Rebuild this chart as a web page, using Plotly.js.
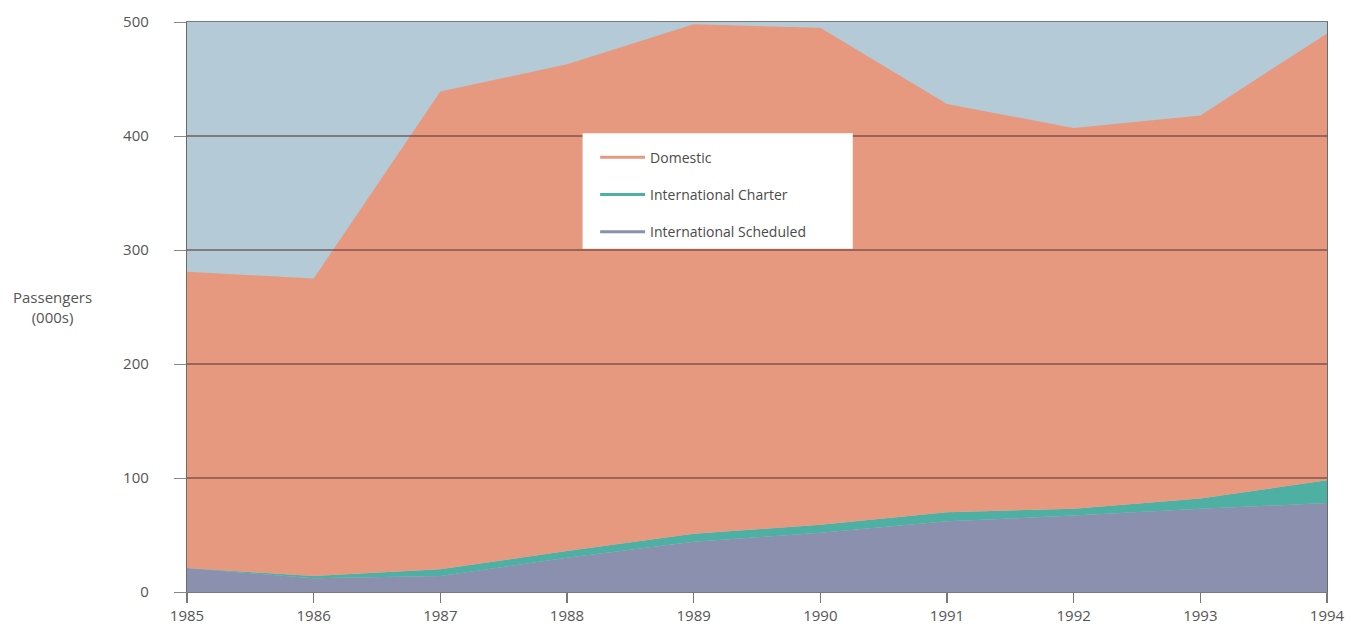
<!DOCTYPE html>
<html>
<head>
<meta charset="utf-8">
<script src="https://cdn.plot.ly/plotly-3.0.1.min.js"></script>
<style>
  html, body { margin: 0; padding: 0; background: #ffffff; }
  #chart { width: 1367px; height: 640px; }
</style>
</head>
<body>
<div id="chart"></div>
<script>
// Data (passengers, thousands)
const years = [1985, 1986, 1987, 1988, 1989, 1990, 1991, 1992, 1993, 1994];
const intlScheduled = [21, 12, 14, 30, 44, 52, 62, 67, 73, 78];
const intlCharter   = [0, 2, 6, 6, 7, 7, 8, 6, 9, 20];
const domestic      = [260, 261, 419, 427, 447, 436, 358, 334, 336, 392];
const yTickVals = [0, 100, 200, 300, 400, 500];
const xTickVals = years;

const colDomestic = '#e7997f';
const colCharter = '#4db0a2';
const colScheduled = '#8a90ad';

const traces = [
  { x: years, y: intlScheduled, name: 'International Scheduled', type: 'scatter', mode: 'lines',
    stackgroup: 'one', line: { width: 0, color: colScheduled }, fillcolor: colScheduled, showlegend: false, hoverinfo: 'x+y+name' },
  { x: years, y: intlCharter, name: 'International Charter', type: 'scatter', mode: 'lines',
    stackgroup: 'one', line: { width: 0, color: colCharter }, fillcolor: colCharter, showlegend: false, hoverinfo: 'x+y+name' },
  { x: years, y: domestic, name: 'Domestic', type: 'scatter', mode: 'lines',
    stackgroup: 'one', line: { width: 0, color: colDomestic }, fillcolor: colDomestic, showlegend: false, hoverinfo: 'x+y+name' },
  // legend entries (line swatches as in the reference)
  { x: [null], y: [null], name: 'Domestic', type: 'scatter', mode: 'lines', legendgroup: 'a',
    line: { width: 3, color: colDomestic } },
  { x: [null], y: [null], name: 'International Charter', type: 'scatter', mode: 'lines', legendgroup: 'b',
    line: { width: 3, color: colCharter } },
  { x: [null], y: [null], name: 'International Scheduled', type: 'scatter', mode: 'lines', legendgroup: 'c',
    line: { width: 3, color: colScheduled } }
];

const gridShapes = yTickVals.filter(v => v > 0 && v < 500).map(v => ({
  type: 'line', xref: 'paper', x0: 0, x1: 1, yref: 'y', y0: v, y1: v,
  layer: 'above', line: { color: 'rgba(95,60,55,0.75)', width: 1.3 }
}));

// white legend panel
const legendBox = {
  type: 'rect', xref: 'paper', yref: 'paper',
  x0: 0.347, x1: 0.584, y0: 0.602, y1: 0.805,
  layer: 'above', fillcolor: '#ffffff', line: { width: 0 }
};

const layout = {
  width: 1367, height: 640,
  margin: { l: 187, r: 40, t: 22, b: 48 },
  paper_bgcolor: '#ffffff',
  plot_bgcolor: '#b4cbd7',
  font: { family: '"Open Sans", "Noto Sans", sans-serif', color: '#555555', size: 14 },
  showlegend: true,
  legend: {
    x: 0.358, y: 0.79, xanchor: 'left', yanchor: 'top',
    bgcolor: 'rgba(0,0,0,0)', borderwidth: 0,
    font: { size: 14, color: '#4a4a4a' },
    traceorder: 'grouped', tracegroupgap: 16,
    itemwidth: 45
  },
  xaxis: {
    range: [1985, 1994], tickvals: xTickVals, ticktext: xTickVals.map(String),
    showgrid: false, zeroline: false,
    showline: true, mirror: true, linecolor: '#7a7a7a', linewidth: 1.2,
    ticks: 'outside', ticklen: 10, tickcolor: '#777777', tickwidth: 1.2,
    tickfont: { size: 15, color: '#555555' }
  },
  yaxis: {
    range: [0, 500], tickvals: yTickVals,
    showgrid: false, zeroline: false,
    showline: true, mirror: true, linecolor: '#6a6a6a', linewidth: 1.2,
    ticks: 'outside', ticklen: 12, tickcolor: '#888888', tickwidth: 1,
    ticklabelstandoff: 22,
    tickfont: { size: 15, color: '#555555' }
  },
  shapes: gridShapes.concat([legendBox]),
  annotations: [{
    text: 'Passengers<br>(000s)', xref: 'paper', yref: 'paper',
    x: -0.118, y: 0.5, xanchor: 'center', yanchor: 'middle', showarrow: false,
    font: { size: 15, color: '#555555' }, align: 'center'
  }]
};

Plotly.newPlot('chart', traces, layout, { displayModeBar: false, staticPlot: true });
</script>
</body>
</html>
